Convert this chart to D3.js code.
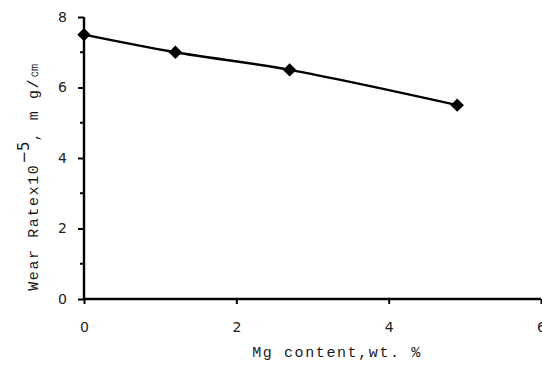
<!DOCTYPE html>
<html>
<head>
<meta charset="utf-8">
<script src="https://cdn.jsdelivr.net/npm/d3@7"></script>
<style>
  body { margin: 0; background: #fff; }
  svg { display: block; }
  .title { font-family: "Liberation Mono", "Courier New", monospace; font-size: 15px; letter-spacing: 1.6px; fill: #1a1a1a; }
</style>
</head>
<body>
<div id="chart"></div>
<script>
// data
const mgContent = [0, 1.2, 2.7, 4.9]
const wearRate = [7.5, 7.0, 6.5, 5.5]
const xTicks = [0, 2, 4, 6]
const yTicks = [0, 2, 4, 6, 8]
const yMinorTicks = [1, 3, 5, 7]

const width = 542
const height = 365
const margin = { top: 17, right: 1, bottom: 66, left: 84 }

const svg = d3.select('#chart')
  .append('svg')
  .attr('width', width)
  .attr('height', height)

const x = d3.scaleLinear().domain([0, 6]).range([margin.left, width - margin.right])
const y = d3.scaleLinear().domain([0, 8]).range([height - margin.bottom, margin.top])

// y axis
const yAxis = svg.append('g')
  .attr('transform', `translate(${margin.left},0)`)
  .call(d3.axisLeft(y).tickValues(yTicks).tickSize(6).tickPadding(11).tickFormat(d3.format('d')))
yAxis.select('.domain').attr('stroke-width', 2.4).attr('d', `M0,${y(8)}V${y(0)}`)
yAxis.selectAll('.tick line').attr('stroke-width', 2)

svg.append('g')
  .attr('transform', `translate(${margin.left},0)`)
  .selectAll('line')
  .data(yMinorTicks)
  .join('line')
  .attr('x1', -4).attr('x2', 0)
  .attr('y1', d => y(d)).attr('y2', d => y(d))
  .attr('stroke', '#000').attr('stroke-width', 2)

// x axis
const xAxis = svg.append('g')
  .attr('transform', `translate(0,${y(0)})`)
  .call(d3.axisBottom(x).tickValues(xTicks).tickSize(5).tickPadding(18).tickFormat(d3.format('d')))
xAxis.select('.domain').attr('stroke-width', 2.4).attr('d', `M${x(0)},0H${x(6)}`)
xAxis.selectAll('.tick line').attr('stroke-width', 2)

svg.selectAll('.tick text')
  .attr('font-family', '"DejaVu Sans", Verdana, sans-serif')
  .attr('font-size', 14)
  .attr('fill', '#222')

// line
const pts = mgContent.map((d, i) => [d, wearRate[i]])
const line = d3.line()
  .x(d => x(d[0]))
  .y(d => y(d[1]))
  .curve(d3.curveCatmullRom.alpha(0.5))

svg.append('path')
  .datum(pts)
  .attr('d', line)
  .attr('fill', 'none')
  .attr('stroke', '#000')
  .attr('stroke-width', 2.5)

svg.selectAll('path.marker')
  .data(pts)
  .join('path')
  .attr('class', 'marker')
  .attr('d', d3.symbol().type(d3.symbolDiamond2).size(115))
  .attr('transform', d => `translate(${x(d[0])},${y(d[1])})`)
  .attr('fill', '#000')

// titles
svg.append('text')
  .attr('class', 'title')
  .attr('x', 337)
  .attr('y', 357)
  .attr('text-anchor', 'middle')
  .text('Mg content,wt. %')

const yt = svg.append('text')
  .attr('class', 'title')
  .attr('transform', 'translate(38,176) rotate(-90)')
  .attr('text-anchor', 'middle')
yt.append('tspan').text('Wear Ratex10')
yt.append('tspan').attr('dy', -9).attr('font-family', '"DejaVu Sans", sans-serif').attr('font-size', 15).attr('letter-spacing', 0).text('\u22125')
yt.append('tspan').attr('dy', 9).text(', m g/\u339D')
</script>
</body>
</html>
